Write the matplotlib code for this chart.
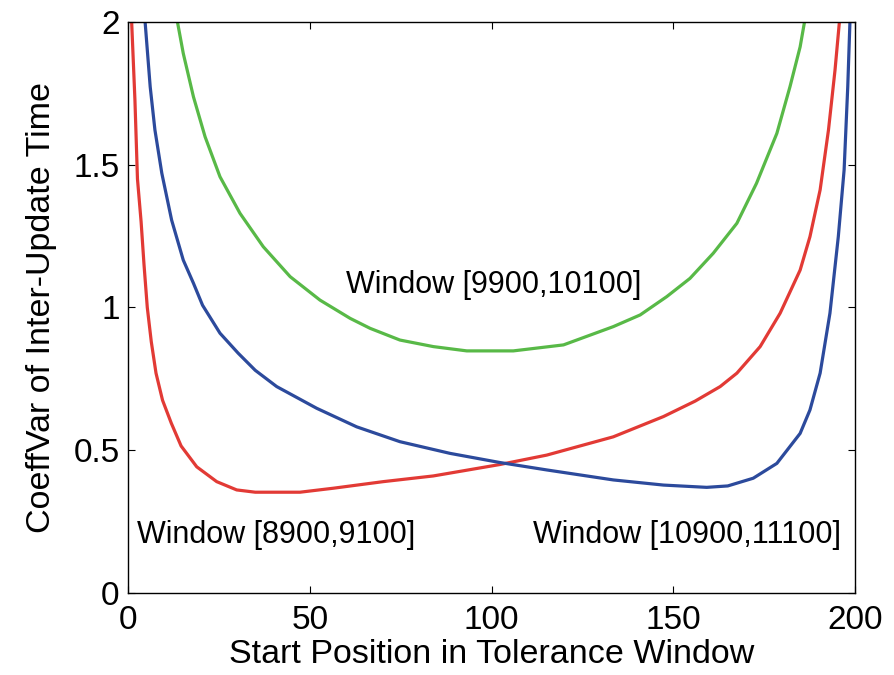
import numpy as np
import matplotlib
matplotlib.use('Agg')
import matplotlib.pyplot as plt

plt.rcParams['font.family'] = ['Liberation Sans', 'DejaVu Sans']

# Window [8900,9100]
red_x = [1.0, 1.9, 2.6, 3.6, 4.4, 5.3, 6.4, 7.7, 9.5, 11.9, 14.6, 18.9, 24.4, 29.9, 35,
         47.3, 56.5, 70.2, 84, 102.3, 115.2, 133.5, 147.3, 156, 162.9, 167.5, 173.9,
         179.4, 184.9, 187.6, 190.4, 192.7, 194.5, 195.7]
red_y = [2.0, 1.727, 1.45, 1.30, 1.15, 1.0, 0.88, 0.77, 0.675, 0.595, 0.515, 0.442, 0.39,
         0.361, 0.353, 0.353, 0.367, 0.39, 0.41, 0.45, 0.483, 0.547, 0.618, 0.672, 0.723,
         0.77, 0.863, 0.98, 1.131, 1.248, 1.412, 1.622, 1.832, 2.0]

# Window [10900,11100]
blue_x = [4.7, 6.1, 7.4, 9.3, 12, 15.2, 18, 20.5, 25.3, 30.3, 35, 40.9, 51.9, 62.9, 74.8,
          88.6, 102.3, 115.2, 133.5, 147.3, 159.2, 165, 172, 178.5, 184.9, 187.6, 190.4,
          193.1, 195.4, 197, 198, 198.6]
blue_y = [2.0, 1.773, 1.622, 1.47, 1.306, 1.166, 1.085, 1.008, 0.91, 0.84, 0.78, 0.723,
          0.647, 0.582, 0.53, 0.489, 0.457, 0.431, 0.396, 0.378, 0.37, 0.375, 0.402, 0.454,
          0.559, 0.641, 0.77, 0.98, 1.248, 1.482, 1.773, 2.0]

# Window [9900,10100]
green_x = [13.6, 15.2, 18.0, 21.2, 25.3, 30.8, 37.2, 44.6, 52.8, 61.1, 66.6, 74.8, 84,
           93.2, 100, 106, 119.8, 133.5, 140.9, 148.2, 154.6, 161, 167.5, 172.9, 178.5,
           182.1, 184.9, 186.1]
green_y = [2.0, 1.89, 1.738, 1.598, 1.458, 1.33, 1.213, 1.108, 1.026, 0.962, 0.927, 0.886,
           0.863, 0.848, 0.848, 0.848, 0.869, 0.933, 0.974, 1.038, 1.102, 1.19, 1.295,
           1.435, 1.61, 1.773, 1.913, 2.0]

labels = ['Window [9900,10100]', 'Window [8900,9100]', 'Window [10900,11100]']

fig = plt.figure(figsize=(8.94, 6.75), dpi=100)
ax = fig.add_axes([0.1432, 0.1215, 0.8132, 0.8459])

ax.plot(red_x, red_y, color='#e23a35', lw=2.3)
ax.plot(blue_x, blue_y, color='#2c4a9c', lw=2.3)
ax.plot(green_x, green_y, color='#58b947', lw=2.3)

ax.text(100.7, 1.08, labels[0], fontsize=22, ha='center', va='center')
ax.text(40.8, 0.203, labels[1], fontsize=22, ha='center', va='center')
ax.text(153.8, 0.203, labels[2], fontsize=22, ha='center', va='center')

ax.set_xlim(0, 200)
ax.set_ylim(0, 2)
ax.set_xticks([0, 50, 100, 150, 200])
ax.set_yticks([0, 0.5, 1, 1.5, 2])
ax.set_yticklabels(['0', '0.5', '1', '1.5', '2'])
ax.tick_params(direction='in', top=True, right=True, length=5, labelsize=24)
ax.tick_params(axis='x', pad=9)
ax.tick_params(axis='y', pad=6)
ax.set_xlabel('Start Position in Tolerance Window', fontsize=24.5, labelpad=2)
ax.set_ylabel('CoeffVar of Inter-Update Time', fontsize=24.5, labelpad=12)
for s in ax.spines.values():
    s.set_linewidth(1.0)

fig.savefig('out.png', dpi=100)
